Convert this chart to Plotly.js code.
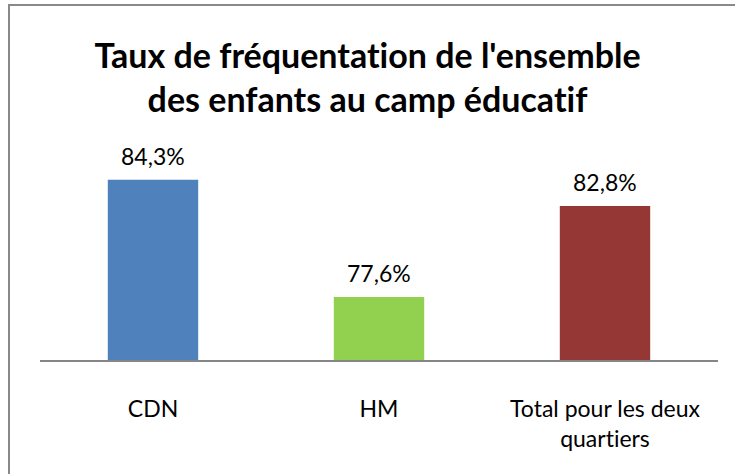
<!DOCTYPE html>
<html>
<head>
<meta charset="utf-8">
<script src="https://cdn.plot.ly/plotly-3.0.1.min.js"></script>
<style>
  html, body { margin: 0; padding: 0; background: #fff; }
  #wrap { position: relative; width: 735px; height: 474px; }
  #chart { width: 735px; height: 474px; }
  #chart text { font-variant-ligatures: none; font-feature-settings: "liga" 0, "clig" 0; }
  #frame { position: absolute; left: 8px; top: 4px; right: -2px; bottom: -2px;
           border-top: 2px solid #898989; border-left: 2px solid #898989; pointer-events: none; }
</style>
</head>
<body>
<div id="wrap"><div id="chart"></div><div id="frame"></div></div>
<script>
const categories = ["CDN", "HM", "Total pour les deux<br>quartiers"];
const values = [84.3, 77.6, 82.8];
const colors = ["#4F81BD", "#92D050", "#953735"];

const fmt = v => v.toFixed(1).replace('.', ',') + '%';

const trace = {
  type: 'bar',
  x: categories,
  y: values,
  marker: { color: colors },
  hoverinfo: 'none'
};

const annotations = categories.map((c, i) => ({
  x: c, y: values[i], xref: 'x', yref: 'y',
  text: fmt(values[i]), showarrow: false,
  yanchor: 'bottom', yshift: 8,
  font: { family: 'Lato, sans-serif', size: 23, color: '#000' }
}));

const layout = {
  width: 735, height: 474,
  margin: { l: 40, r: 17, t: 150, b: 114 },
  paper_bgcolor: '#fff', plot_bgcolor: '#fff',
  title: {
    text: "<b>Taux de fréquentation de l'ensemble<br>des enfants au camp éducatif</b>",
    font: { family: 'Lato, sans-serif', size: 34, color: '#000' },
    x: 0.5, xanchor: 'center', y: 0.857, yanchor: 'top'
  },
  bargap: 0.6,
  showlegend: false,
  xaxis: {
    showline: true, linecolor: '#868686', linewidth: 2,
    ticks: '', ticklabelstandoff: 27,
    tickfont: { family: 'Lato, sans-serif', size: 23, color: '#000' },
    showgrid: false, zeroline: false
  },
  yaxis: {
    range: [74, 86], visible: false, showgrid: false, zeroline: false
  },
  annotations: annotations
};

Plotly.newPlot('chart', [trace], layout, { displayModeBar: false, staticPlot: true });
</script>
</body>
</html>
